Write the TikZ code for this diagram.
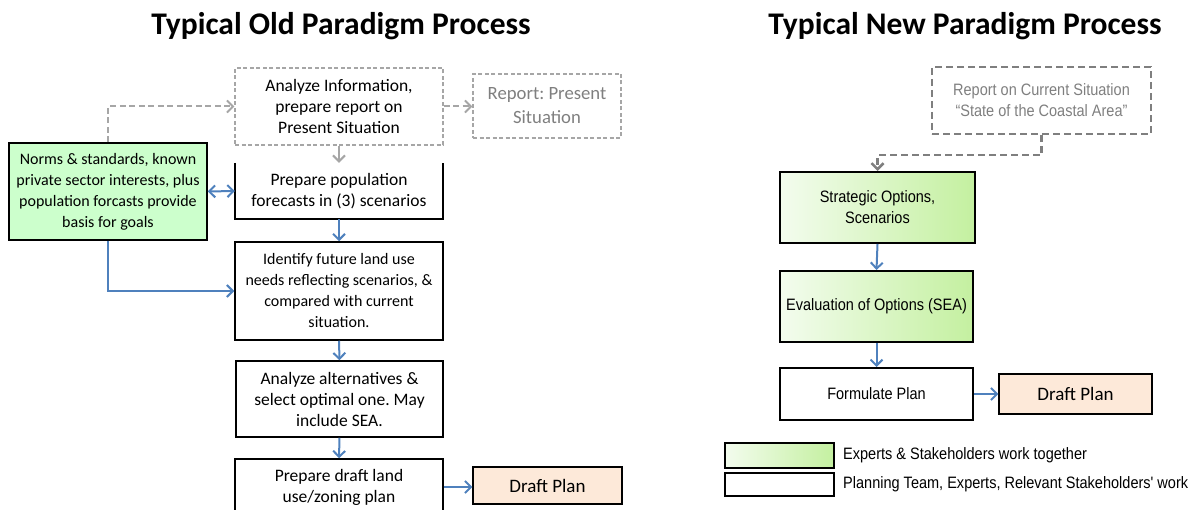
\documentclass[tikz,border=0pt]{standalone}
\usepackage{fontspec}
\setmainfont{Carlito}
\newfontfamily\narrowsans[FakeStretch=0.88]{Liberation Sans}
\usetikzlibrary{arrows.meta}
\frenchspacing
\definecolor{flowblue}{HTML}{4F81BD}
\definecolor{lightgray}{HTML}{A6A6A6}
\definecolor{midgray}{HTML}{7F7F7F}
\definecolor{mint}{HTML}{CCFFCC}
\definecolor{peach}{HTML}{FDE9D9}
\definecolor{gradleft}{HTML}{F3FCEE}
\definecolor{gradright}{HTML}{C4F0A0}
\tikzset{
  box/.style={draw=black, line width=1.5pt, fill=white, inner sep=0pt, align=center,
    font=\fontsize{17.5}{21}\selectfont},
  rbox/.style={draw=black, line width=2pt, inner sep=0pt, align=center,
    font=\narrowsans\fontsize{16.5}{21}\selectfont},
  greenbox/.style={rbox, left color=gradleft, right color=gradright},
  oldreport/.style={draw=lightgray, dash pattern=on 4pt off 2.5pt, line width=1.2pt, inner sep=0pt, align=center},
  flow/.style={draw=flowblue, line width=2pt, -{Straight Barb[length=6pt,width=12pt]}},
  grayflow/.style={draw=lightgray, line width=2pt, dash pattern=on 6pt off 3.5pt, -{Straight Barb[length=6pt,width=12pt]}},
  titletext/.style={font=\fontsize{31.5}{36}\selectfont\bfseries}
}
\begin{document}
\begin{tikzpicture}[x=1pt,y=-1pt]
\useasboundingbox (0,0) rectangle (1199,510);

% headings
\node[titletext] (t1) at (341,26) {Typical Old Paradigm Process};
\node[titletext] (t2) at (965,26) {Typical New Paradigm Process};

% old paradigm
\node[oldreport, minimum width=208pt, minimum height=77pt,
      font=\fontsize{17.5}{21}\selectfont] (ana) at (339,106.5)
  {Analyze Information,\\prepare report on\\Present Situation};
\node[oldreport, text=midgray, minimum width=148pt, minimum height=64pt,
      font=\fontsize{18.7}{24}\selectfont] (rep) at (547,106)
  {Report: Present\\Situation};
\node[inner sep=0pt, minimum width=208pt, minimum height=56pt, align=center,
      font=\fontsize{17.5}{21}\selectfont] (pop) at (339,191)
  {Prepare population\\forecasts in (3) scenarios};
\draw[line width=1.5pt] (pop.north west) -- (pop.south west) -- (pop.south east) -- (pop.north east);
\node[box, fill=mint, minimum width=198pt, minimum height=97pt,
      font=\fontsize{16}{21}\selectfont] (norms) at (108,191.5)
  {Norms \& standards, known\\private sector interests, plus\\population forcasts provide\\basis for goals};
\node[box, minimum width=208pt, minimum height=98pt,
      font=\fontsize{16}{21}\selectfont] (ident) at (339,291)
  {Identify future land use\\needs reflecting scenarios, \&\\compared with current\\situation.};
\node[box, minimum width=207pt, minimum height=76pt] (alt) at (339.5,399)
  {Analyze alternatives \&\\select optimal one. May\\include SEA.};
\node[box, minimum width=208pt, minimum height=56pt] (draftA) at (339,487)
  {Prepare draft land\\use/zoning plan};
\node[draw=black, line width=1.2pt, fill=peach, inner sep=0pt, minimum width=149pt,
      minimum height=37pt, font=\fontsize{19}{22}\selectfont] (planA) at (547.5,485.5) {Draft Plan};

\draw[grayflow] (norms.north) |- (ana.west);
\draw[grayflow] (ana.east) -- (ana.east -| rep.west);
\draw[draw=lightgray, line width=2pt, -{Straight Barb[length=6pt,width=12pt]}] (ana.south) -- (pop.north);
\draw[flow, {Straight Barb[length=6pt,width=12pt]}-{Straight Barb[length=6pt,width=12pt]}] (norms.east) -- (pop.west);
\draw[flow] (norms.south) |- (ident.west);
\draw[flow] (pop.south) -- (ident.north);
\draw[flow] (ident.south) -- (alt.north);
\draw[flow] (alt.south) -- (draftA.north);
\draw[flow] (draftA.east) -- (draftA.east -| planA.west);

% new paradigm
\node[draw=midgray, dash pattern=on 7pt off 4pt, line width=2.5pt, inner sep=0pt, align=center, text=midgray,
      minimum width=219pt, minimum height=67pt,
      font=\narrowsans\fontsize{16.5}{21}\selectfont] (cur) at (1041.5,100.5)
  {Report on Current Situation\\“State of the Coastal Area”};
\node[greenbox, minimum width=195pt, minimum height=71pt] (strat) at (877.5,207.5)
  {Strategic Options,\\Scenarios};
\node[greenbox, minimum width=193pt, minimum height=71pt] (eval) at (876.5,306.5)
  {Evaluation of Options (SEA)};
\node[rbox, fill=white, minimum width=193pt, minimum height=52pt] (form) at (876.5,394)
  {Formulate Plan};
\node[draw=black, line width=1.2pt, fill=peach, inner sep=0pt, minimum width=153pt,
      minimum height=40pt, font=\fontsize{19}{22}\selectfont] (planB) at (1075.5,394) {Draft Plan};

\draw[draw=midgray, line width=2.5pt, dash pattern=on 7pt off 4pt, -{Straight Barb[length=6pt,width=12pt]}]
  (cur.south) -- ++(0,20) -| (strat.north);
\draw[flow] (strat.south) -- (eval.north);
\draw[flow] (eval.south) -- (form.north);
\draw[flow] (form.east) -- (planB.west);

% legend
\node[greenbox, minimum width=109pt, minimum height=25pt] (legA) at (779.5,455.5) {};
\node[rbox, fill=white, minimum width=109pt, minimum height=23pt] (legB) at (779.5,484.5) {};
\node[anchor=west, inner sep=0pt, font=\narrowsans\fontsize{16.5}{19}\selectfont] (legAt) at (843,455.5)
  {Experts \& Stakeholders work together};
\node[anchor=west, inner sep=0pt, font=\narrowsans\fontsize{16.5}{19}\selectfont] (legBt) at (843,484.5)
  {Planning Team, Experts, Relevant Stakeholders' work};
\end{tikzpicture}
\end{document}
